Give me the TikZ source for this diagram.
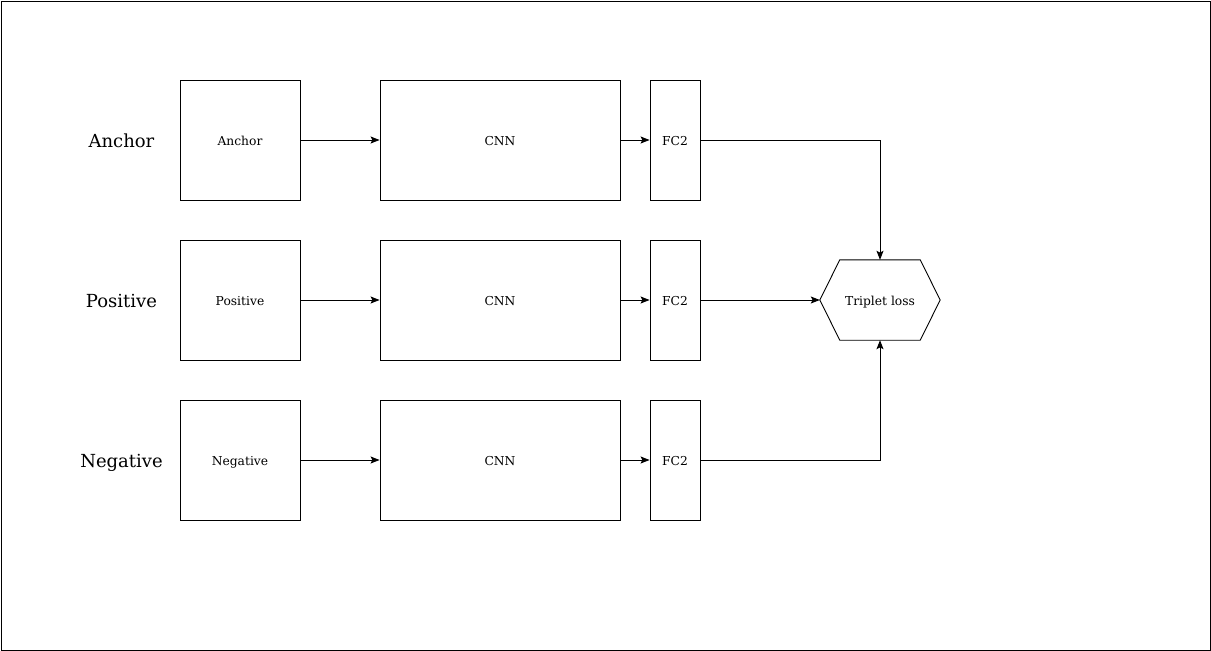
\documentclass[tikz,border=0pt]{standalone}
\usepackage{fontspec}
\setmainfont{DejaVu Serif}
\usetikzlibrary{arrows.meta}
\begin{document}
\begin{tikzpicture}[x=1pt,y=-1pt,
  box/.style={draw=black,line width=0.9pt,minimum width=120pt,minimum height=120pt,inner sep=0pt,font=\fontsize{12.3}{14}\selectfont,text height=11pt,text depth=0pt},
  cnnbox/.style={box,minimum width=240pt},
  fcbox/.style={box,minimum width=50pt},
  rowlabel/.style={font=\fontsize{18}{21}\selectfont,text height=15pt,text depth=0pt},
  conn/.style={line width=0.9pt,-{Stealth[length=9pt,width=7pt,inset=1.8pt]}}
]
\useasboundingbox (0,0) rectangle (1211,651);
\node[draw=black,line width=0.9pt,minimum width=1209pt,minimum height=649pt,inner sep=0pt] (frame) at (605.5,325.5) {};
% row labels
\node[rowlabel] (la) at (121.5,140) {Anchor};
\node[rowlabel] (lp) at (121.5,300) {Positive};
\node[rowlabel] (ln) at (121.5,460) {Negative};
% inputs
\node[box] (ia) at (240,140) {Anchor};
\node[box] (ip) at (240,300) {Positive};
\node[box] (in) at (240,460) {Negative};
% CNN
\node[cnnbox] (ca) at (500,140) {CNN};
\node[cnnbox] (cp) at (500,300) {CNN};
\node[cnnbox] (cn) at (500,460) {CNN};
% FC2
\node[fcbox] (fa) at (675,140) {FC2};
\node[fcbox] (fp) at (675,300) {FC2};
\node[fcbox] (fn) at (675,460) {FC2};
% triplet loss
\node[minimum width=120pt,minimum height=80pt,inner sep=0pt,font=\fontsize{12.3}{14}\selectfont,text height=11pt,text depth=0pt] (tl) at (880,300) {Triplet loss};
\draw[line width=0.9pt,line join=miter] (tl.west) -- ([xshift=20pt]tl.north west) -- ([xshift=-20pt]tl.north east) -- (tl.east) -- ([xshift=-20pt]tl.south east) -- ([xshift=20pt]tl.south west) -- cycle;
% connectors
\draw[conn] (ia) -- (ca);
\draw[conn] (ip) -- (cp);
\draw[conn] (in) -- (cn);
\draw[conn] (ca) -- (fa);
\draw[conn] (cp) -- (fp);
\draw[conn] (cn) -- (fn);
\draw[conn] (fa.east) -| (tl.north);
\draw[conn] (fp.east) -- (tl.west);
\draw[conn] (fn.east) -| (tl.south);
\end{tikzpicture}
\end{document}
